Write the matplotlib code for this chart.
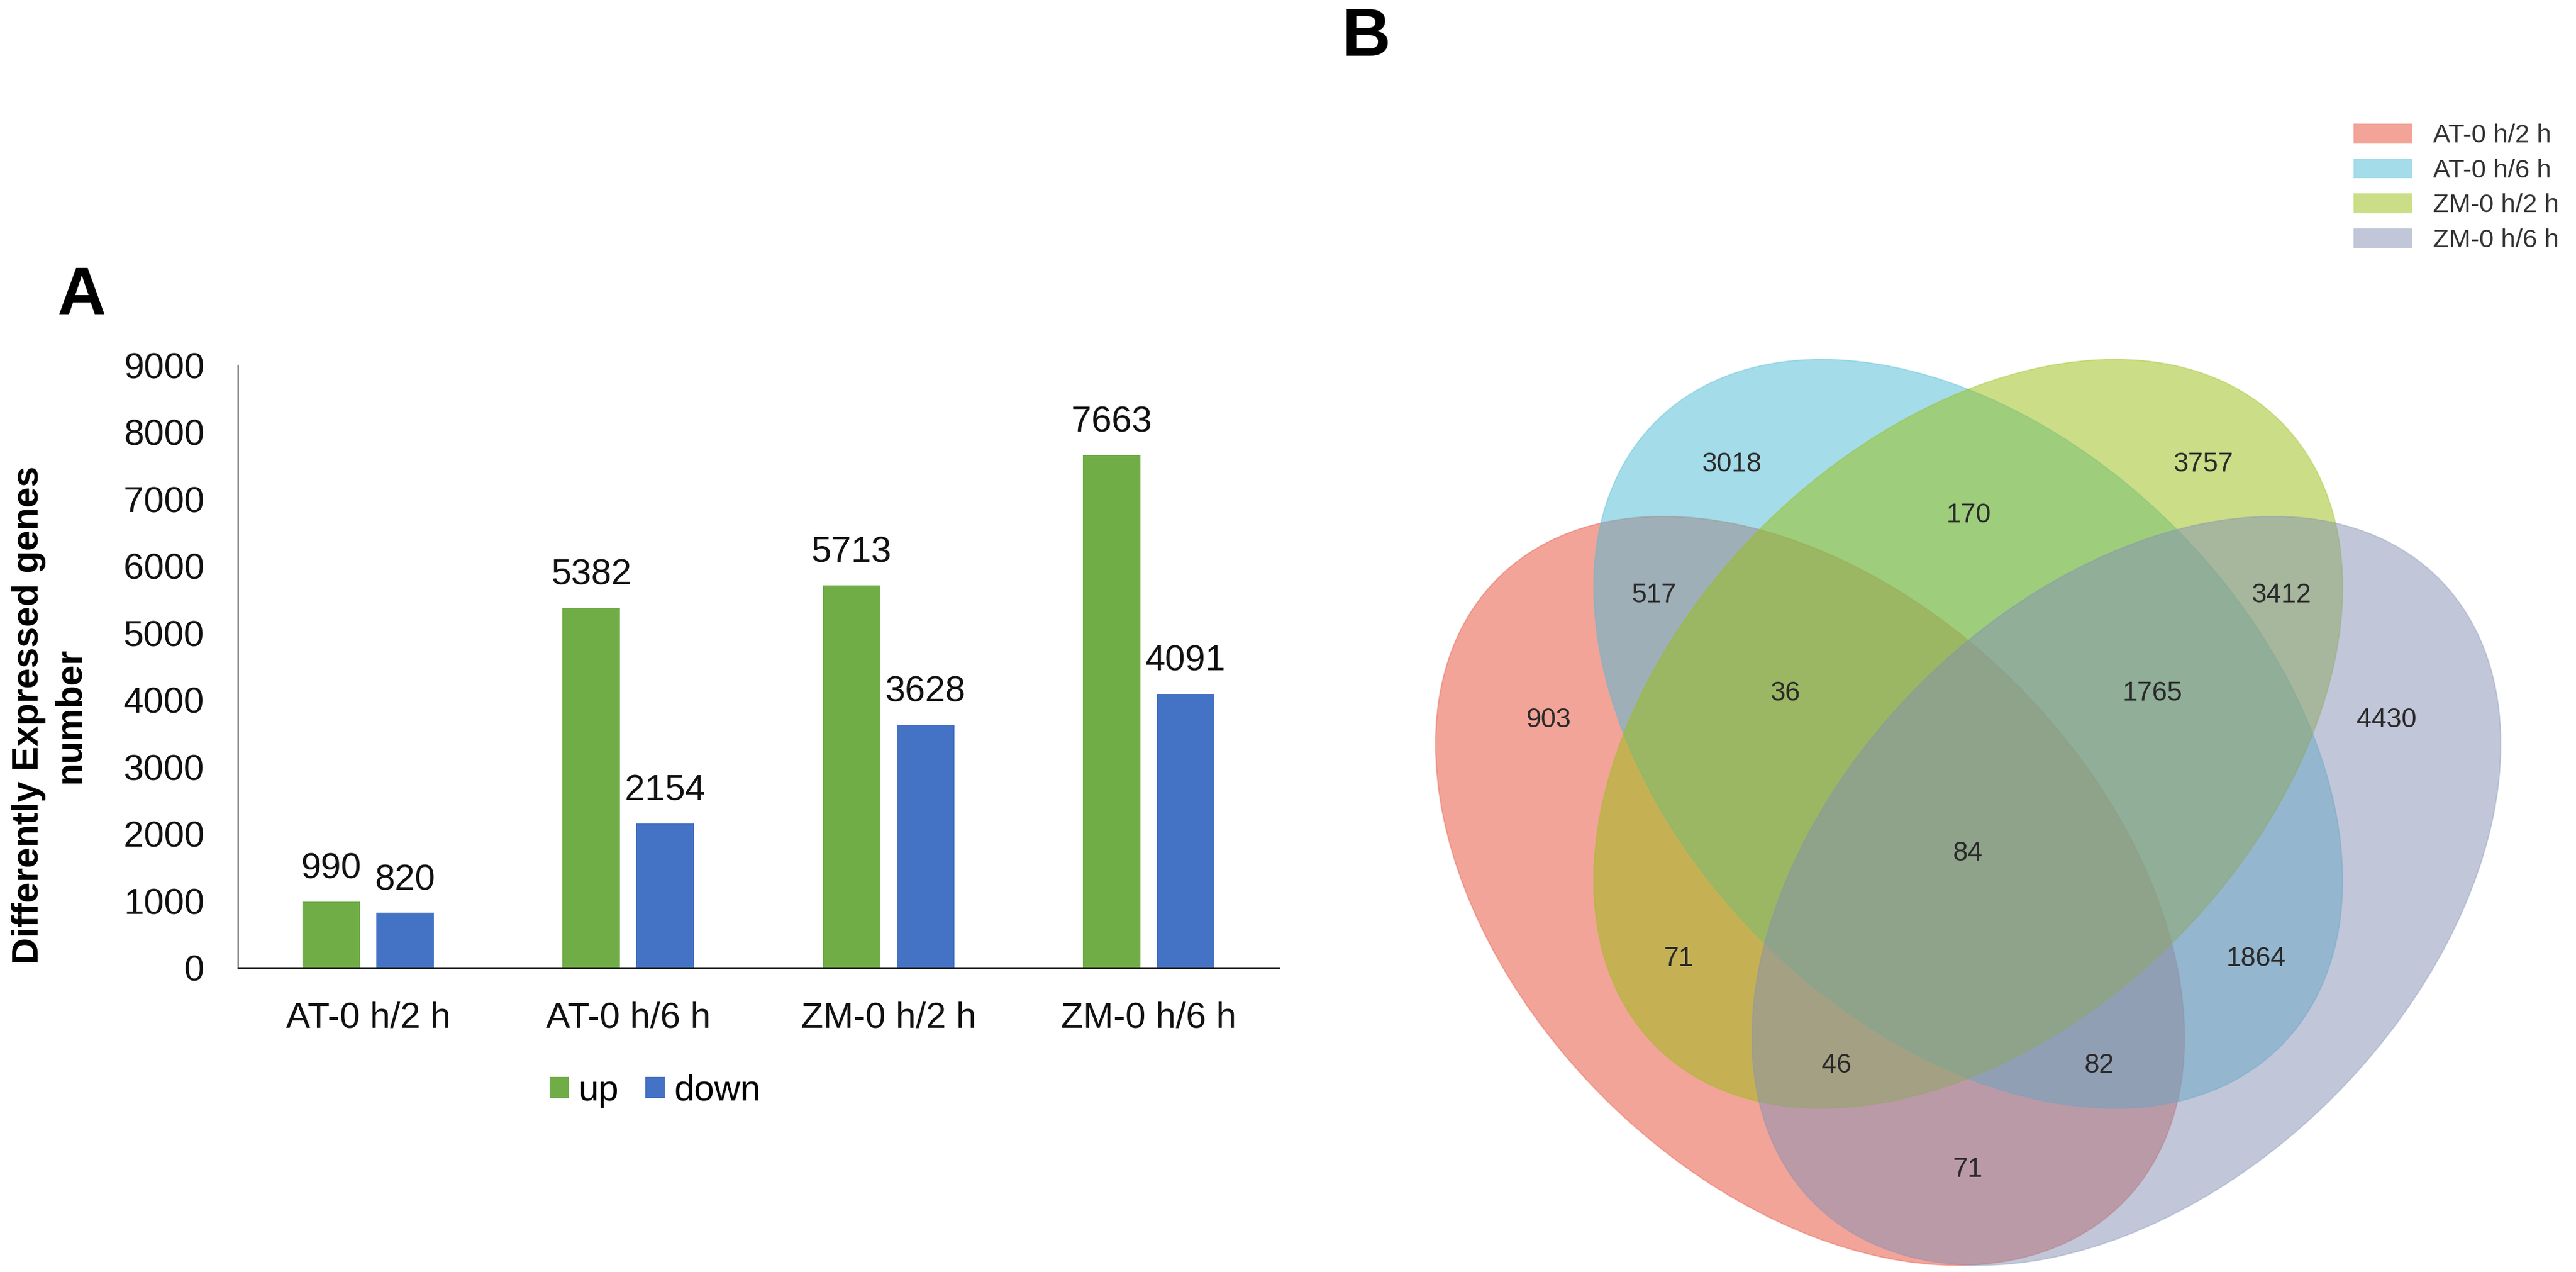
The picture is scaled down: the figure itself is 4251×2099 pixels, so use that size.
import matplotlib
matplotlib.use("Agg")
import matplotlib.pyplot as plt
import numpy as np
from matplotlib.patches import Ellipse, Patch
from matplotlib.colors import to_rgba

plt.rcParams['font.family'] = ['Liberation Sans', 'DejaVu Sans']

# ---------------- data ----------------
groups = ["AT-0 h/2 h", "AT-0 h/6 h", "ZM-0 h/2 h", "ZM-0 h/6 h"]
up_counts = [990, 5382, 5713, 7663]
down_counts = [820, 2154, 3628, 4091]
series_names = ["up", "down"]

venn_sets = ["AT-0 h/2 h", "AT-0 h/6 h", "ZM-0 h/2 h", "ZM-0 h/6 h"]
# region counts (order matches region_pos below)
venn_counts = [903, 3018, 3757, 4430,   # singles: A, B, C, D
               517, 170, 3412,          # AB, BC, CD
               36, 1765, 84,            # ABC, BCD, ABCD
               71, 1864, 46, 82, 71]    # AC, BD, ACD, ABD, AD

# ---------------- styles / layout ----------------
W, H = 4251, 2099
fig = plt.figure(figsize=(W / 100, H / 100), dpi=100)

green = "#70AD47"
blue = "#4472C4"
venn_colors = ["#E64B35", "#4DBBD5", "#99BF11", "#8491B4"]
venn_alpha = 0.5

# ---------------- panel A ----------------
ax = fig.add_axes([393 / W, 1 - 1597 / H, 1717 / W, 994 / H])
x = np.arange(len(groups))
bw = 0.221
off = 0.142
b1 = ax.bar(x - off, up_counts, bw, color=green, label=series_names[0])
b2 = ax.bar(x + off, down_counts, bw, color=blue, label=series_names[1])
ax.bar_label(b1, padding=19, fontsize=43, color="#111111")
ax.bar_label(b2, padding=19, fontsize=43, color="#111111")

ax.set_xlim(-0.5, len(groups) - 0.5)
ax.set_ylim(0, 9000)
ax.set_yticks(np.arange(0, 9001, 1000))
ax.set_xticks(x)
ax.set_xticklabels(groups)
ax.tick_params(axis='both', length=0, labelsize=43, colors="#111111")
ax.tick_params(axis='y', pad=40)
ax.tick_params(axis='x', pad=40)
for s in ["top", "right"]:
    ax.spines[s].set_visible(False)
ax.spines["left"].set_color("#505050")
ax.spines["left"].set_linewidth(1.6)
ax.spines["bottom"].set_color("#222222")
ax.spines["bottom"].set_linewidth(2.2)

ax.set_ylabel("Differently Expressed genes\nnumber", fontsize=44,
              fontweight='bold', ha='center', va='center', linespacing=1.25)
ax.yaxis.set_label_coords((82 - 393) / 1717, (1597 - 1180) / 994)

ax.legend(loc='center', bbox_to_anchor=(1081 / W, 1 - 1800 / H),
          bbox_transform=fig.transFigure, ncol=2, frameon=False,
          fontsize=43, handlelength=0.53, handleheight=0.53,
          handletextpad=0.26, columnspacing=0.74)

fig.text(134 / W, 1 - 519 / H, "A", fontsize=80, fontweight='bold',
         ha='center', va='baseline')

# ---------------- panel B (Venn) ----------------
vax = fig.add_axes([0, 0, 1, 1])
vax.set_xlim(0, W)
vax.set_ylim(H, 0)
vax.axis('off')

ell_centers = [(2987, 1470), (3248, 1211), (3248, 1211), (3509, 1470)]
ell_angles = [45, 45, -45, -45]
ell_w, ell_h = 1458, 964
for c, ang, col in zip(ell_centers, ell_angles, venn_colors):
    e = Ellipse(c, ell_w, ell_h, angle=ang,
                facecolor=to_rgba(col, venn_alpha),
                edgecolor=to_rgba(col, 0.35), linewidth=1.5)
    vax.add_patch(e)

region_pos = [(2556, 1189), (2858, 766), (3636, 766), (3938, 1189),
              (2729, 983), (3249, 851), (3765, 983),
              (2946, 1145), (3552, 1145), (3247, 1409),
              (2770, 1582), (3723, 1582), (3031, 1758), (3464, 1758),
              (3247, 1931)]
for (px, py), n in zip(region_pos, venn_counts):
    vax.text(px, py, str(n), fontsize=32, color="#2a2a2a",
             ha='center', va='center')

handles = [Patch(facecolor=to_rgba(c, venn_alpha), edgecolor='none')
           for c in venn_colors]
fig.legend(handles, venn_sets, loc='upper left',
           bbox_to_anchor=(3884 / W, 1 - 204 / H), frameon=False,
           fontsize=31, handlelength=2.25, handleheight=0.79,
           handletextpad=0.8, labelspacing=0.4, borderpad=0,
           borderaxespad=0, labelcolor="#333333")

fig.text(2255 / W, 1 - 92 / H, "B", fontsize=80, fontweight='bold',
         ha='center', va='baseline')

fig.savefig("out.png", dpi=100)
